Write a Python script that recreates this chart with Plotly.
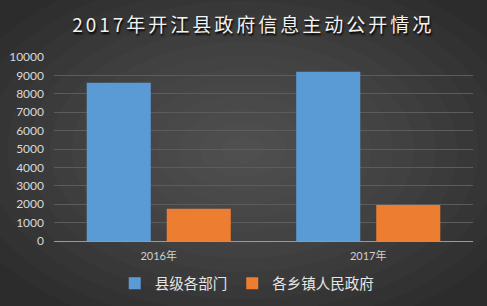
import plotly.graph_objects as go

categories = ["2016年", "2017年"]
series_names = ["县级各部门", "各乡镇人民政府"]
dept_values = [8600, 9200]
town_values = [1750, 1950]
y_ticks = [0, 1000, 2000, 3000, 4000, 5000, 6000, 7000, 8000, 9000, 10000]
y_tick_labels = ["0", "1000", "2000", "3000", "4000", "5000", "6000", "7000", "8000", "9000", "10000"]
title_text = "2017年开江县政府信息主动公开情况"

W, H = 487, 306
ML, MR, MT, MB = 54, 14, 57, 65

fig = go.Figure()
fig.add_trace(go.Bar(
    name=series_names[0], x=categories, y=dept_values,
    marker=dict(color="#5b9bd5", line=dict(width=0)),
))
fig.add_trace(go.Bar(
    name=series_names[1], x=categories, y=town_values,
    marker=dict(color="#ed7d31", line=dict(width=0)),
))

# radial-ish background glow using concentric translucent ellipses
pw, ph = W - ML - MR, H - MT - MB
cx_px, cy_px = 243, 150
shapes = []
N = 14
for k in range(N, 0, -1):
    rx = 300 * k / N
    ry = 190 * k / N
    x0 = (cx_px - rx - ML) / pw
    x1 = (cx_px + rx - ML) / pw
    y0 = (H - MB - (cy_px + ry)) / ph
    y1 = (H - MB - (cy_px - ry)) / ph
    shapes.append(dict(type="circle", xref="paper", yref="paper",
                       x0=x0, x1=x1, y0=y0, y1=y1, layer="below",
                       fillcolor="rgba(255,255,255,0.014)", line=dict(width=0)))

fig.update_layout(
    width=W, height=H,
    margin=dict(l=ML, r=MR, t=MT, b=MB, autoexpand=False),
    paper_bgcolor="#2c2c2c",
    plot_bgcolor="rgba(0,0,0,0)",
    shapes=shapes,
    barmode="group",
    bargap=0.236,
    bargroupgap=0.2,
    title=dict(
        text=title_text, x=0.52, xanchor="center", y=1 - 25 / H, yanchor="middle",
        font=dict(family="Noto Sans CJK SC", size=19, color="#f2f2f2",
                  shadow="1px 2px 2px #000000"),
    ),
    xaxis=dict(
        automargin=False,
        showgrid=False, showline=True, linecolor="#9a9a9a", linewidth=1,
        ticks="", tickfont=dict(family="Lato, Noto Sans CJK SC", size=11, color="#cfcfcf"),
        ticklabelstandoff=5,
    ),
    yaxis=dict(
        automargin=False,
        range=[0, 10000], tickvals=y_ticks, ticktext=y_tick_labels,
        showgrid=True, gridcolor="#5c5c5c",
        gridwidth=1, zeroline=False, showline=False, ticks="",
        tickfont=dict(family="Lato", size=12, color="#d9d9d9"),
        ticklabelstandoff=9,
    ),
    legend=dict(
        orientation="h", x=0.46, xanchor="center", y=-0.23, yanchor="middle",
        font=dict(family="Noto Sans CJK SC", size=14.5, color="#e6e6e6"),
        bgcolor="rgba(0,0,0,0)", itemwidth=30,
    ),
    showlegend=True,
)

fig.write_html("out.html",
               config={"displayModeBar": False},
               post_script="document.head.insertAdjacentHTML('beforeend','<style>html,body{margin:0;padding:0;background:#2c2c2c}.gtitle{letter-spacing:3px}</style>');")
